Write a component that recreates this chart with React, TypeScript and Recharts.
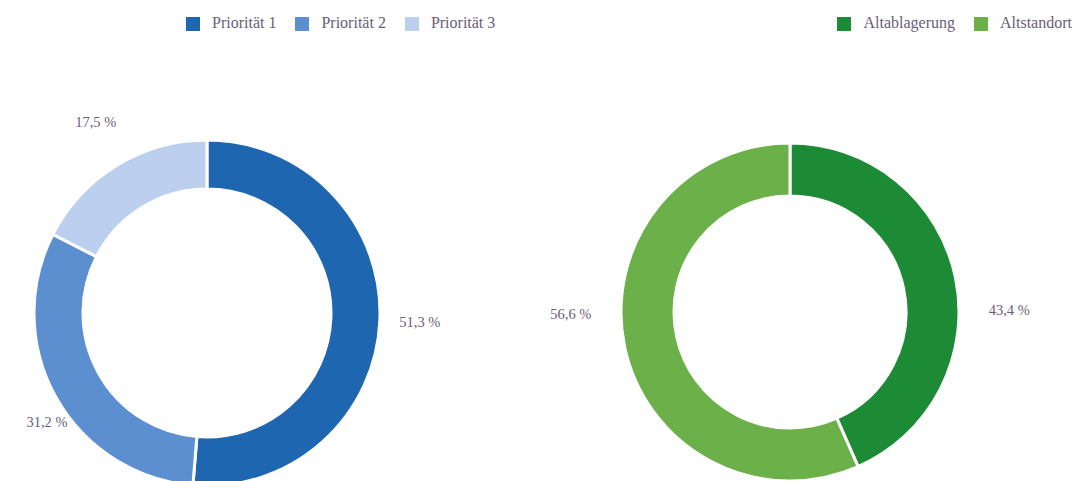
import { PieChart, Pie, Cell, Legend } from "recharts";

const priorityNames = ["Priorität 1", "Priorität 2", "Priorität 3"];
const priorityShares = [51.3, 31.2, 17.5];
const priorityColors = ["#1f66b0", "#5b8fcf", "#bccfee"];

const siteNames = ["Altablagerung", "Altstandort"];
const siteShares = [43.4, 56.6];
const siteColors = ["#1d8a35", "#6cb04a"];

const TEXT = "#6a5d78";
const FONT = "'Liberation Serif', 'DejaVu Serif', serif";
const RAD = Math.PI / 180;

const fmt = (v: number) => `${v.toFixed(1).replace(".", ",")} %`;

// label sits outside the ring along the slice's middle angle, kept inside the frame
const makeLabel = (gap: number, ySquash: number, minX: number) => (props: any) => {
  const { cx, cy, midAngle, outerRadius, value } = props;
  const r = outerRadius + gap;
  const x = Math.max(cx + r * Math.cos(-midAngle * RAD), minX);
  const y = cy + r * Math.sin(-midAngle * RAD) * ySquash;
  return (
    <text x={x} y={y} fill={TEXT} fontSize={14.5} fontFamily={FONT} textAnchor="middle" dominantBaseline="central">
      {fmt(value)}
    </text>
  );
};

const legendStyle = { fontFamily: FONT, fontSize: 16, color: TEXT };

const Donut = ({
  names,
  values,
  colors,
  width,
  cx,
  cy,
  outer,
  inner,
  labelGap,
  labelSquash,
  labelMinX,
  legendPos,
}: {
  names: string[];
  values: number[];
  colors: string[];
  width: number;
  cx: number;
  cy: number;
  outer: number;
  inner: number;
  labelGap: number;
  labelSquash: number;
  labelMinX: number;
  legendPos: React.CSSProperties;
}) => {
  const data = names.map((name, i) => ({ name, value: values[i] }));
  return (
    <PieChart width={width} height={481} margin={{ top: 0, right: 0, bottom: 0, left: 0 }}>
      <Legend
        verticalAlign="top"
        iconType="square"
        iconSize={14}
        wrapperStyle={{ ...legendStyle, position: "absolute", width: "auto", ...legendPos }}
        formatter={(v: string) => <span style={{ color: TEXT, marginLeft: 8, marginRight: 9 }}>{v}</span>}
      />
      <Pie
        data={data}
        dataKey="value"
        nameKey="name"
        cx={cx}
        cy={cy}
        outerRadius={outer}
        innerRadius={inner}
        startAngle={90}
        endAngle={-270}
        stroke="#ffffff"
        strokeWidth={3}
        label={makeLabel(labelGap, labelSquash, labelMinX)}
        labelLine={false}
        isAnimationActive={false}
      >
        {data.map((d, i) => (
          <Cell key={d.name} fill={colors[i]} />
        ))}
      </Pie>
    </PieChart>
  );
};

export default function App() {
  return (
    <div style={{ position: "absolute", left: 0, top: 0, width: 1089, height: 481, background: "#fff", display: "flex", overflow: "hidden" }}>
      <div style={{ width: 545, height: 481 }}>
        <Donut
          names={priorityNames}
          values={priorityShares}
          colors={priorityColors}
          width={545}
          cx={207}
          cy={295}
          outer={173}
          inner={124}
          labelGap={40}
          labelSquash={1.05}
          labelMinX={47}
          legendPos={{ top: 14, left: 186 }}
        />
      </div>
      <div style={{ width: 544, height: 481 }}>
        <Donut
          names={siteNames}
          values={siteShares}
          colors={siteColors}
          width={544}
          cx={245}
          cy={294}
          outer={169}
          inner={116}
          labelGap={55}
          labelSquash={0.05}
          labelMinX={0}
          legendPos={{ top: 14, right: -2, left: "auto" }}
        />
      </div>
    </div>
  );
}
